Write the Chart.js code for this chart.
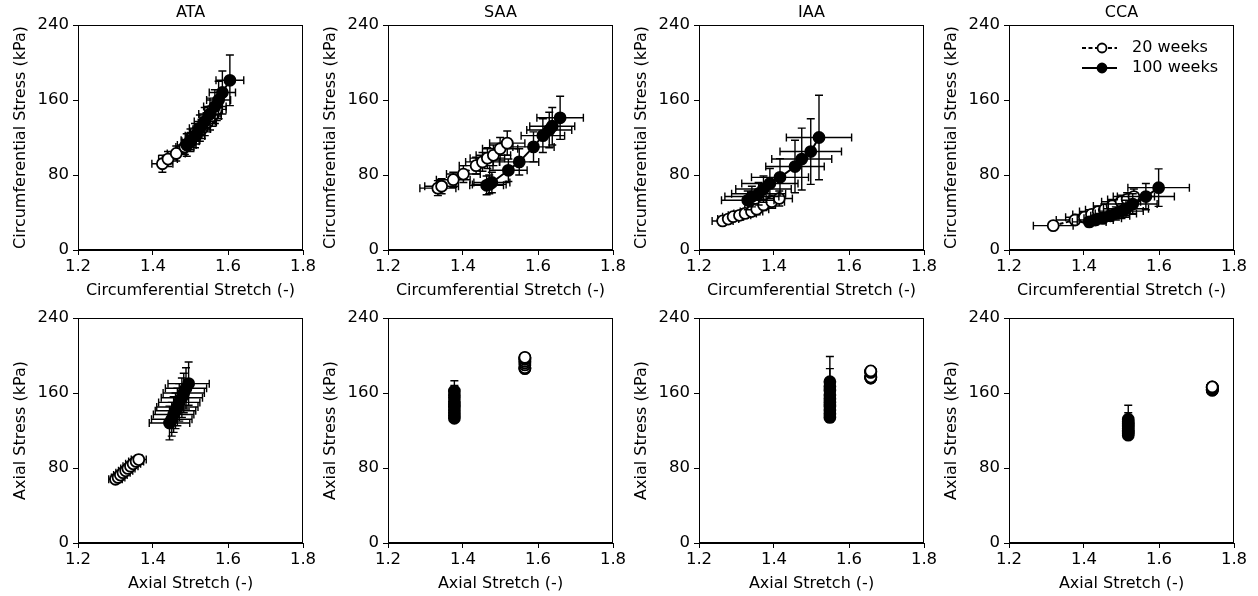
<!DOCTYPE html>
<html>
<head>
<meta charset="utf-8">
<script src="https://cdn.jsdelivr.net/npm/chart.js@4.4.1/dist/chart.umd.min.js"></script>
<style>
  body { margin: 0; background: #fff; }
  #wrap { position: relative; width: 1258px; height: 596px; }
  #wrap canvas { position: absolute; }
</style>
</head>
<body>
<div id="wrap"></div>
<script>
const regions = ['ATA', 'SAA', 'IAA', 'CCA'];
const ages = ['20 weeks', '100 weeks'];
const stretchTicks = [1.2, 1.4, 1.6, 1.8];
const stressTicks = [0, 80, 160, 240];

// circumferential, 20 weeks
const ataCircStretch20 = [1.425, 1.440, 1.462, 1.485, 1.500, 1.515, 1.530, 1.545, 1.558, 1.570];
const ataCircStretchSd20 = [0.028, 0.025, 0.024, 0.024, 0.023, 0.023, 0.023, 0.024, 0.024, 0.025];
const ataCircStress20 = [92, 97, 103, 110, 116, 122, 129, 136, 143, 150];
const ataCircStressSd20 = [9, 8, 8, 8, 9, 9, 10, 10, 11, 12];
const saaCircStretch20 = [1.333, 1.343, 1.374, 1.401, 1.435, 1.452, 1.465, 1.481, 1.499, 1.518];
const saaCircStretchSd20 = [0.048, 0.045, 0.045, 0.045, 0.045, 0.045, 0.046, 0.046, 0.047, 0.047];
const saaCircStress20 = [66, 68, 75, 81, 90, 94, 98, 101, 108, 114];
const saaCircStressSd20 = [8, 8, 8, 9, 9, 10, 11, 11, 12, 13];
const iaaCircStretch20 = [1.263, 1.278, 1.291, 1.308, 1.323, 1.340, 1.354, 1.372, 1.394, 1.414];
const iaaCircStretchSd20 = [0.028, 0.028, 0.028, 0.030, 0.030, 0.030, 0.032, 0.032, 0.034, 0.035];
const iaaCircStress20 = [31, 33, 35.5, 37, 39, 41, 43.5, 48, 51.5, 55];
const iaaCircStressSd20 = [4, 4, 4, 5, 5, 5, 6, 6, 7, 8];
const ccaCircStretch20 = [1.318, 1.376, 1.401, 1.420, 1.438, 1.454, 1.475, 1.499, 1.515, 1.533];
const ccaCircStretchSd20 = [0.053, 0.050, 0.050, 0.050, 0.050, 0.050, 0.050, 0.052, 0.052, 0.055];
const ccaCircStress20 = [26, 32, 35, 38, 41, 43, 47, 51.5, 54, 57];
const ccaCircStressSd20 = [4, 4, 5, 5, 5, 6, 6, 7, 7, 8];

// circumferential, 100 weeks
const ataCircStretch100 = [1.490, 1.500, 1.512, 1.525, 1.538, 1.552, 1.565, 1.575, 1.585, 1.605];
const ataCircStretchSd100 = [0.025, 0.025, 0.026, 0.028, 0.028, 0.030, 0.030, 0.032, 0.035, 0.037];
const ataCircStress100 = [112, 117, 122, 130, 137, 145, 153, 160, 168, 181];
const ataCircStressSd100 = [12, 12, 13, 14, 15, 17, 18, 20, 23, 27];
const saaCircStretch100 = [1.463, 1.470, 1.477, 1.521, 1.550, 1.588, 1.613, 1.630, 1.638, 1.659];
const saaCircStretchSd100 = [0.045, 0.045, 0.048, 0.050, 0.052, 0.055, 0.058, 0.060, 0.060, 0.062];
const saaCircStress100 = [69, 70, 72, 85, 94, 110, 122, 128, 132, 141];
const saaCircStressSd100 = [10, 10, 11, 12, 14, 16, 18, 19, 20, 23];
const iaaCircStretch100 = [1.330, 1.341, 1.359, 1.372, 1.389, 1.416, 1.456, 1.474, 1.498, 1.520];
const iaaCircStretchSd100 = [0.070, 0.072, 0.072, 0.074, 0.075, 0.076, 0.078, 0.080, 0.082, 0.087];
const iaaCircStress100 = [53, 57, 60, 65, 71, 77.5, 89, 97, 105, 120];
const iaaCircStressSd100 = [10, 11, 12, 14, 16, 20, 28, 33, 35, 45];
const ccaCircStretch100 = [1.414, 1.430, 1.450, 1.470, 1.485, 1.500, 1.512, 1.530, 1.565, 1.599];
const ccaCircStretchSd100 = [0.045, 0.048, 0.050, 0.052, 0.055, 0.058, 0.060, 0.065, 0.076, 0.082];
const ccaCircStress100 = [30, 32, 34, 36.5, 39, 41.5, 44, 49, 57, 66.5];
const ccaCircStressSd100 = [5, 5, 6, 6, 7, 8, 9, 11, 14, 20];

// axial, 20 weeks
const ataAxStretch20 = [1.300, 1.307, 1.313, 1.320, 1.327, 1.333, 1.340, 1.347, 1.355, 1.362];
const ataAxStretchSd20 = [0.018, 0.018, 0.018, 0.019, 0.019, 0.019, 0.020, 0.020, 0.020, 0.020];
const ataAxStress20 = [68, 70, 72.5, 75, 77, 79.5, 82, 84.5, 87, 89];
const ataAxStressSd20 = [3, 3, 3, 3, 4, 4, 4, 4, 4, 5];
const saaAxStretch20 = [1.565, 1.565, 1.565, 1.565, 1.565, 1.565, 1.565, 1.565, 1.565, 1.565];
const saaAxStretchSd20 = [0, 0, 0, 0, 0, 0, 0, 0, 0, 0];
const saaAxStress20 = [186, 186.5, 187, 190, 192, 194, 196, 197, 197.5, 198];
const saaAxStressSd20 = [2, 2, 2, 2, 2, 2, 3, 3, 3, 3];
const iaaAxStretch20 = [1.658, 1.658, 1.658, 1.658, 1.658, 1.658, 1.658, 1.658, 1.658, 1.658];
const iaaAxStretchSd20 = [0, 0, 0, 0, 0, 0, 0, 0, 0, 0];
const iaaAxStress20 = [176, 176, 176.5, 177, 177, 182, 182.5, 183, 183, 183.5];
const iaaAxStressSd20 = [1, 1, 1, 1, 1, 1, 2, 2, 2, 2];
const ccaAxStretch20 = [1.742, 1.742, 1.742, 1.742, 1.742, 1.742, 1.742, 1.742, 1.742, 1.742];
const ccaAxStretchSd20 = [0, 0, 0, 0, 0, 0, 0, 0, 0, 0];
const ccaAxStress20 = [163, 163, 163.5, 164, 164, 165.5, 166, 166, 166.5, 166.5];
const ccaAxStressSd20 = [1, 1, 1, 1, 1, 1, 1, 1, 1, 1];

// axial, 100 weeks
const ataAxStretch100 = [1.444, 1.450, 1.455, 1.460, 1.465, 1.470, 1.477, 1.482, 1.488, 1.495];
const ataAxStretchSd100 = [0.054, 0.054, 0.054, 0.054, 0.055, 0.055, 0.055, 0.055, 0.055, 0.055];
const ataAxStress100 = [128, 132, 137, 141, 145, 150, 155, 160, 165, 170];
const ataAxStressSd100 = [18, 18, 19, 19, 20, 20, 21, 21, 22, 23];
const saaAxStretch100 = [1.377, 1.377, 1.377, 1.377, 1.377, 1.377, 1.377, 1.377, 1.377, 1.377];
const saaAxStretchSd100 = [0, 0, 0, 0, 0, 0, 0, 0, 0, 0];
const saaAxStress100 = [133, 136, 139, 142, 145, 148, 151, 155, 158, 162];
const saaAxStressSd100 = [4, 4, 5, 5, 6, 7, 8, 9, 10, 11];
const iaaAxStretch100 = [1.549, 1.549, 1.549, 1.549, 1.549, 1.549, 1.549, 1.549, 1.549, 1.549];
const iaaAxStretchSd100 = [0, 0, 0, 0, 0, 0, 0, 0, 0, 0];
const iaaAxStress100 = [134, 138, 142, 146, 150, 154, 158, 163, 167, 172];
const iaaAxStressSd100 = [5, 6, 7, 8, 9, 10, 11, 13, 19, 27];
const ccaAxStretch100 = [1.518, 1.518, 1.518, 1.518, 1.518, 1.518, 1.518, 1.518, 1.518, 1.518];
const ccaAxStretchSd100 = [0, 0, 0, 0, 0, 0, 0, 0, 0, 0];
const ccaAxStress100 = [115, 117, 118.5, 120, 122, 124, 125.5, 127, 129, 132];
const ccaAxStressSd100 = [3, 3, 4, 4, 5, 6, 7, 8, 10, 15];

// layout (page pixels)
const plotLefts = [78, 388, 699, 1009];
const plotTops = [25, 318];
const PLOT = 225;
const Y_AXIS_W = 67;
const X_AXIS_H = 50;
const PAD_TOP = 25;
const PAD_RIGHT = 20;

Chart.defaults.font.family = 'DejaVu Sans';
Chart.defaults.color = '#000';

const errorBars = {
    id: 'errorBars',
    beforeDatasetDraw(chart, args) {
        const ds = chart.data.datasets[args.index];
        const xs = chart.scales.x;
        const ys = chart.scales.y;
        const ctx = chart.ctx;
        const cap = 4;
        ctx.save();
        ctx.strokeStyle = '#000';
        ctx.lineWidth = 1.4;
        ctx.setLineDash([]);
        ds.data.forEach((p, i) => {
            const px = xs.getPixelForValue(p.x);
            const py = ys.getPixelForValue(p.y);
            const xe = ds.xErr[i];
            const ye = ds.yErr[i];
            ctx.beginPath();
            if (xe > 0) {
                const l = xs.getPixelForValue(p.x - xe);
                const r = xs.getPixelForValue(p.x + xe);
                ctx.moveTo(l, py); ctx.lineTo(r, py);
                ctx.moveTo(l, py - cap); ctx.lineTo(l, py + cap);
                ctx.moveTo(r, py - cap); ctx.lineTo(r, py + cap);
            }
            if (ye > 0) {
                const t = ys.getPixelForValue(p.y + ye);
                const b = ys.getPixelForValue(p.y - ye);
                ctx.moveTo(px, t); ctx.lineTo(px, b);
                ctx.moveTo(px - cap, t); ctx.lineTo(px + cap, t);
                ctx.moveTo(px - cap, b); ctx.lineTo(px + cap, b);
            }
            ctx.stroke();
        });
        ctx.restore();
    }
};

const frame = {
    id: 'frame',
    afterDraw(chart, args, opts) {
        const ctx = chart.ctx;
        const a = chart.chartArea;
        ctx.save();
        ctx.strokeStyle = '#000';
        ctx.lineWidth = 1;
        ctx.setLineDash([]);
        ctx.strokeRect(a.left + 0.5, a.top + 0.5, a.right - a.left - 1, a.bottom - a.top - 1);

        if (opts.title) {
            ctx.fillStyle = '#000';
            ctx.font = '16px "DejaVu Sans"';
            ctx.textAlign = 'center';
            ctx.textBaseline = 'middle';
            ctx.fillText(opts.title, (a.left + a.right) / 2, a.top - 12);
        }

        if (opts.legend) {
            ctx.font = '16px "DejaVu Sans"';
            ctx.textAlign = 'left';
            ctx.textBaseline = 'middle';
            chart.data.datasets.forEach((ds, i) => {
                const y = a.top + 23 + i * 20;
                const x0 = a.left + 73;
                ctx.strokeStyle = '#000';
                ctx.lineWidth = 1.8;
                ctx.setLineDash(ds.borderDash || []);
                ctx.beginPath();
                ctx.moveTo(x0, y);
                ctx.lineTo(x0 + 35, y);
                ctx.stroke();
                ctx.setLineDash([]);
                ctx.beginPath();
                ctx.arc(x0 + 20, y, 4.5, 0, Math.PI * 2);
                ctx.fillStyle = ds.pointBackgroundColor;
                ctx.fill();
                ctx.stroke();
                ctx.fillStyle = '#000';
                ctx.fillText(ds.label, x0 + 50, y);
            });
        }
        ctx.restore();
    }
};

function series(label, stretch, stretchSd, stress, stressSd, young) {
    return {
        label: label,
        data: stretch.map((v, i) => ({ x: v, y: stress[i] })),
        xErr: stretchSd,
        yErr: stressSd,
        showLine: true,
        tension: 0,
        borderColor: '#000',
        borderWidth: 2,
        borderDash: young ? [4, 2.5] : [],
        pointRadius: 5.5,
        pointBorderWidth: 1.8,
        pointBorderColor: '#000',
        pointBackgroundColor: young ? '#fff' : '#000',
        order: young ? 2 : 1
    };
}

function makePanel(col, row, title, xTitle, yTitle, datasets, showLegend) {
    const canvas = document.createElement('canvas');
    const w = Y_AXIS_W + PLOT + PAD_RIGHT;
    const h = PAD_TOP + PLOT + X_AXIS_H;
    canvas.width = w;
    canvas.height = h;
    canvas.style.width = w + 'px';
    canvas.style.height = h + 'px';
    canvas.style.left = (plotLefts[col] - Y_AXIS_W) + 'px';
    canvas.style.top = (plotTops[row] - PAD_TOP) + 'px';
    document.getElementById('wrap').appendChild(canvas);

    new Chart(canvas.getContext('2d'), {
        type: 'scatter',
        data: { datasets: datasets },
        options: {
            responsive: false,
            animation: false,
            devicePixelRatio: 1,
            events: [],
            layout: { padding: { left: 0, top: PAD_TOP, right: PAD_RIGHT, bottom: 0 } },
            plugins: {
                legend: { display: false },
                tooltip: { enabled: false },
                frame: { title: title, legend: showLegend }
            },
            scales: {
                x: {
                    type: 'linear',
                    min: stretchTicks[0],
                    max: stretchTicks[stretchTicks.length - 1],
                    afterBuildTicks: s => { s.ticks = stretchTicks.map(v => ({ value: v })); },
                    afterFit: s => { s.height = X_AXIS_H; },
                    ticks: { callback: v => v.toFixed(1), font: { size: 16.5 }, color: '#000', padding: 2, maxRotation: 0, autoSkip: false },
                    grid: { drawOnChartArea: false, tickLength: 5, color: '#000' },
                    border: { color: '#000', width: 1 },
                    title: { display: true, text: xTitle, font: { size: 16 }, color: '#000', padding: 0 }
                },
                y: {
                    type: 'linear',
                    min: stressTicks[0],
                    max: stressTicks[stressTicks.length - 1],
                    afterBuildTicks: s => { s.ticks = stressTicks.map(v => ({ value: v })); },
                    afterFit: s => { s.width = Y_AXIS_W; },
                    ticks: { callback: v => String(v), font: { size: 16.5 }, color: '#000', padding: 4, autoSkip: false },
                    grid: { drawOnChartArea: false, tickLength: 5, color: '#000' },
                    border: { color: '#000', width: 1 },
                    title: { display: true, text: yTitle, font: { size: 16 }, color: '#000', padding: 0 }
                }
            }
        },
        plugins: [errorBars, frame]
    });
}

const circ20 = [
    [ataCircStretch20, ataCircStretchSd20, ataCircStress20, ataCircStressSd20],
    [saaCircStretch20, saaCircStretchSd20, saaCircStress20, saaCircStressSd20],
    [iaaCircStretch20, iaaCircStretchSd20, iaaCircStress20, iaaCircStressSd20],
    [ccaCircStretch20, ccaCircStretchSd20, ccaCircStress20, ccaCircStressSd20]
];
const circ100 = [
    [ataCircStretch100, ataCircStretchSd100, ataCircStress100, ataCircStressSd100],
    [saaCircStretch100, saaCircStretchSd100, saaCircStress100, saaCircStressSd100],
    [iaaCircStretch100, iaaCircStretchSd100, iaaCircStress100, iaaCircStressSd100],
    [ccaCircStretch100, ccaCircStretchSd100, ccaCircStress100, ccaCircStressSd100]
];
const ax20 = [
    [ataAxStretch20, ataAxStretchSd20, ataAxStress20, ataAxStressSd20],
    [saaAxStretch20, saaAxStretchSd20, saaAxStress20, saaAxStressSd20],
    [iaaAxStretch20, iaaAxStretchSd20, iaaAxStress20, iaaAxStressSd20],
    [ccaAxStretch20, ccaAxStretchSd20, ccaAxStress20, ccaAxStressSd20]
];
const ax100 = [
    [ataAxStretch100, ataAxStretchSd100, ataAxStress100, ataAxStressSd100],
    [saaAxStretch100, saaAxStretchSd100, saaAxStress100, saaAxStressSd100],
    [iaaAxStretch100, iaaAxStretchSd100, iaaAxStress100, iaaAxStressSd100],
    [ccaAxStretch100, ccaAxStretchSd100, ccaAxStress100, ccaAxStressSd100]
];

regions.forEach((name, col) => {
    makePanel(col, 0, name, 'Circumferential Stretch (-)', 'Circumferential Stress (kPa)', [
        series(ages[0], ...circ20[col], true),
        series(ages[1], ...circ100[col], false)
    ], col === 3);
    makePanel(col, 1, null, 'Axial Stretch (-)', 'Axial Stress (kPa)', [
        series(ages[0], ...ax20[col], true),
        series(ages[1], ...ax100[col], false)
    ], false);
});
</script>
</body>
</html>
